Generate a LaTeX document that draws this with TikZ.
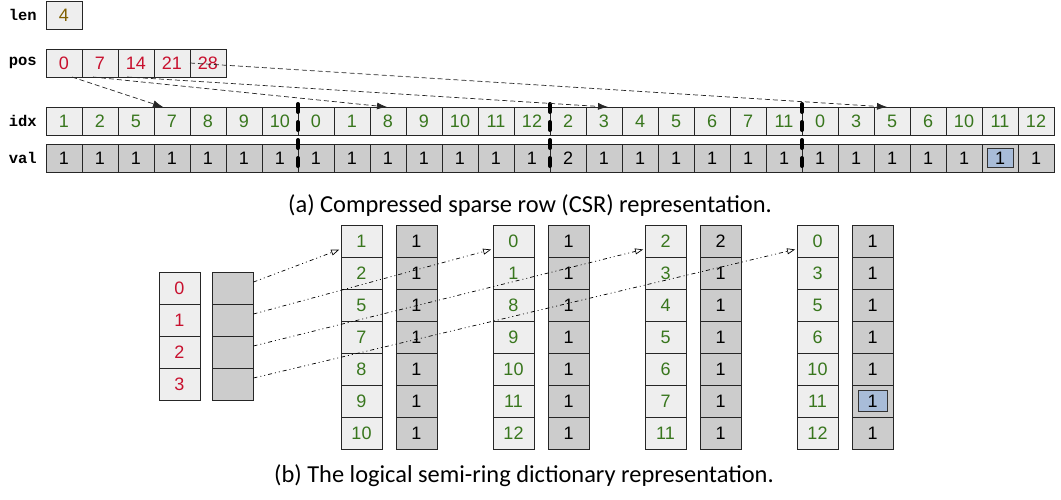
\documentclass[tikz,border=0pt]{standalone}
\usepackage{fontspec}
\setmainfont{Carlito}
\newfontfamily\cellfont{Liberation Sans}
\newfontfamily\lblfont{Liberation Mono}
\usetikzlibrary{positioning, arrows.meta}
\definecolor{cellbg}{HTML}{EEEEEE}
\definecolor{valbg}{HTML}{CCCCCC}
\definecolor{idxgreen}{RGB}{56,118,29}
\definecolor{posred}{RGB}{200,16,46}
\definecolor{lenbrown}{RGB}{128,96,0}
\definecolor{hlblue}{RGB}{168,188,216}

\begin{document}
\begin{tikzpicture}[
        x=1pt, y=-1pt,
        cell/.style = {draw=black!85, line width=0.8pt, minimum width=36pt, minimum height=28pt, inner sep=0pt, outer sep=0pt, font=\cellfont\fontsize{18}{18}\selectfont},
        idxcell/.style = {cell, fill=cellbg, text=idxgreen},
        valcell/.style = {cell, fill=valbg},
        poscell/.style = {cell, fill=cellbg, text=posred},
        tall/.style = {minimum width=41pt, minimum height=32pt},
        lbl/.style = {inner sep=0pt, font=\lblfont\bfseries\fontsize{15.5}{15.5}\selectfont},
        hl/.style = {draw=black!80, line width=0.8pt, fill=hlblue, minimum width=26pt, minimum height=19pt, inner sep=0pt, font=\cellfont\fontsize{18}{18}\selectfont},
        ptr/.style = {-{Latex[length=10pt, width=7pt]}, dash pattern=on 5pt off 3pt, line width=0.7pt, black!85},
        ref/.style = {-{Triangle[open, length=8pt, width=6pt]}, dash pattern=on 4pt off 3pt on 1pt off 3pt on 1pt off 3pt, line width=0.7pt, shorten >=2pt},
        cut/.style = {line width=4pt, line cap=round, dash pattern=on 8pt off 10pt},
        caption/.style = {font=\fontsize{24.4}{24.4}\selectfont},
    ]
        \useasboundingbox (0,0) rectangle (1061,499);
        % CSR arrays
        \node[cell, fill=cellbg, text=lenbrown] (len) at (64,15) {4};
        \foreach \v [count=\i from 0] in {0,7,14,21,28}
            \node[poscell] (pos\i) at ({64+36*\i},63) {\v};
        \foreach \v [count=\i from 0] in {1,2,5,7,8,9,10,0,1,8,9,10,11,12,2,3,4,5,6,7,11,0,3,5,6,10,11,12}
            \node[idxcell] (idx\i) at ({64+36*\i},121) {\v};
        \foreach \v [count=\i from 0] in {1,1,1,1,1,1,1,1,1,1,1,1,1,1,2,1,1,1,1,1,1,1,1,1,1,1,{},1}
            \node[valcell] (val\i) at ({64+36*\i},158) {\v};
        \node[hl] (valhl) at (val26) {1};
        \node[lbl, left=9pt of len] (lenlbl) {len};
        \node[lbl, left=9pt of pos0] (poslbl) {pos};
        \node[lbl, left=9pt of idx0] (idxlbl) {idx};
        \node[lbl, left=9pt of val0] (vallbl) {val};
        \draw[cut] ([yshift=3pt]idx6.north east) -- ([yshift=-1pt]val6.south east);
        \draw[cut] ([yshift=3pt]idx13.north east) -- ([yshift=-1pt]val13.south east);
        \draw[cut] ([yshift=3pt]idx20.north east) -- ([yshift=-1pt]val20.south east);
        \draw[ptr] ([xshift=8pt]pos0.south) -- ([xshift=9pt]idx3.north west);
        \draw[ptr] ([xshift=-7pt]pos1.south) -- ([xshift=17pt]idx9.north west);
        \draw[ptr] ([xshift=-9pt]pos2.south) -- ([xshift=22pt]idx15.north west);
        \draw[ptr] (pos4.west) -- ([xshift=13pt]idx23.north west);
        \node[caption] (capa) at (530,206) {(a) Compressed sparse row (CSR) representation.};
        % dictionary view
        \foreach \v [count=\i from 0] in {0,1,2,3} {
            \node[poscell, tall] (key\i) at (179.5,{288+32*\i}) {\v};
            \node[valcell, tall] (slot\i) at (233,{288+32*\i}) {};
        }
        \foreach \v [count=\i from 0] in {1,2,5,7,8,9,10}
            \node[idxcell, tall] (ga\i) at (361.5,{241+32*\i}) {\v};
        \foreach \i in {0,...,6}
            \node[valcell, tall] (gav\i) at (416.5,{241+32*\i}) {1};
        \foreach \v [count=\i from 0] in {0,1,8,9,10,11,12}
            \node[idxcell, tall] (gb\i) at (513.5,{241+32*\i}) {\v};
        \foreach \i in {0,...,6}
            \node[valcell, tall] (gbv\i) at (568.5,{241+32*\i}) {1};
        \foreach \v [count=\i from 0] in {2,3,4,5,6,7,11}
            \node[idxcell, tall] (gc\i) at (665.5,{241+32*\i}) {\v};
        \foreach \v [count=\i from 0] in {2,1,1,1,1,1,1}
            \node[valcell, tall] (gcv\i) at (720.5,{241+32*\i}) {\v};
        \foreach \v [count=\i from 0] in {0,3,5,6,10,11,12}
            \node[idxcell, tall] (gd\i) at (817.5,{241+32*\i}) {\v};
        \foreach \v [count=\i from 0] in {1,1,1,1,1,{},1}
            \node[valcell, tall] (gdv\i) at (872.5,{241+32*\i}) {\v};
        \node[hl, minimum width=29pt, minimum height=21pt] (gdhl) at (gdv5) {1};
        \draw[ref] ([yshift=6pt]slot0.east) -- ([yshift=-8pt]ga0.west);
        \draw[ref] ([yshift=6pt]slot1.east) -- ([yshift=-8pt]gb0.west);
        \draw[ref] ([yshift=6pt]slot2.east) -- ([yshift=-8pt]gc0.west);
        \draw[ref] ([yshift=6pt]slot3.east) -- ([yshift=-8pt]gd0.west);
        \node[caption] (capb) at (524,476) {(b) The logical semi-ring dictionary representation.};
    \end{tikzpicture}
\end{document}
